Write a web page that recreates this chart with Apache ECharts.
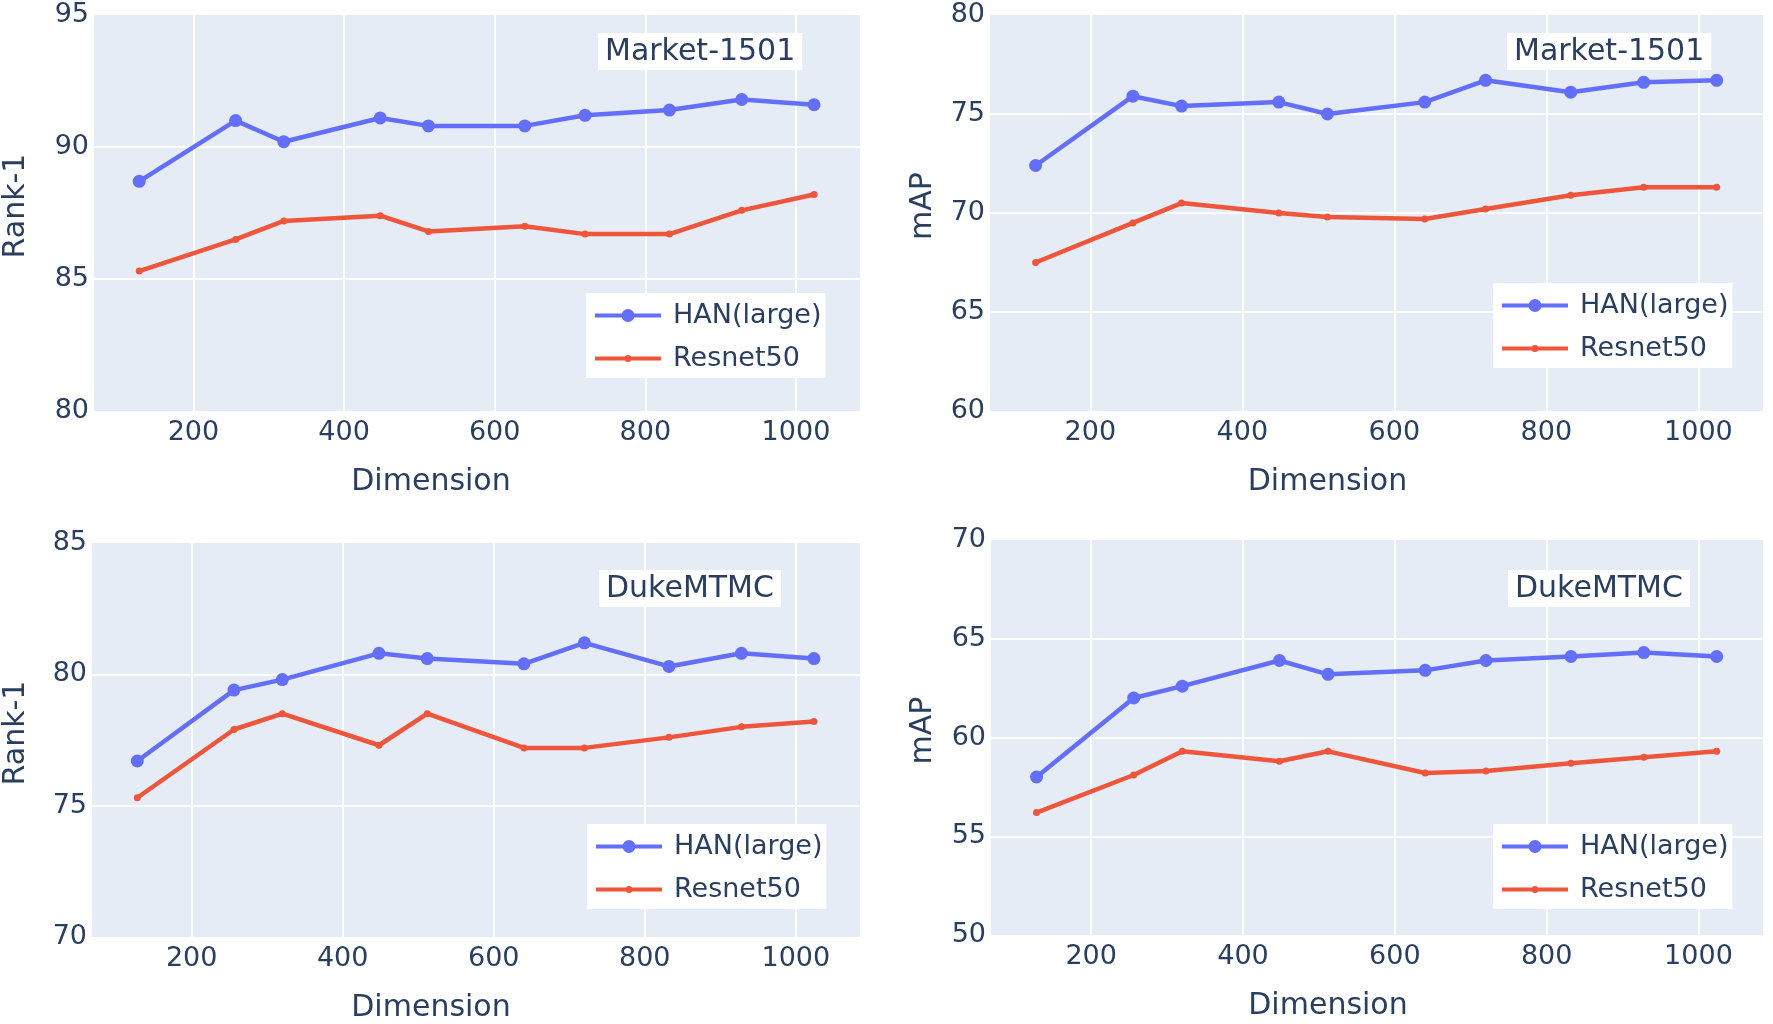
<!DOCTYPE html>
<html>
<head>
<meta charset="utf-8">
<script src="https://cdn.jsdelivr.net/npm/echarts@6/dist/echarts.min.js"></script>
<style>
  html, body { margin: 0; padding: 0; background: #fff; }
  #chart { width: 1773px; height: 1024px; }
</style>
</head>
<body>
<div id="chart"></div>
<script>
// ---- Data ----
const dims = [128, 256, 320, 448, 512, 640, 720, 832, 928, 1024];
const seriesNames = ['HAN(large)', 'Resnet50'];
const panelLabels = ['Market-1501', 'Market-1501', 'DukeMTMC', 'DukeMTMC'];
const yTitles = ['Rank-1', 'mAP', 'Rank-1', 'mAP'];
const xTitle = 'Dimension';

const marketRank1HAN = [88.7, 91.0, 90.2, 91.1, 90.8, 90.8, 91.2, 91.4, 91.8, 91.6];
const marketRank1Res = [85.3, 86.5, 87.2, 87.4, 86.8, 87.0, 86.7, 86.7, 87.6, 88.2];
const marketMapHAN   = [72.4, 75.9, 75.4, 75.6, 75.0, 75.6, 76.7, 76.1, 76.6, 76.7];
const marketMapRes   = [67.5, 69.5, 70.5, 70.0, 69.8, 69.7, 70.2, 70.9, 71.3, 71.3];
const dukeRank1HAN   = [76.7, 79.4, 79.8, 80.8, 80.6, 80.4, 81.2, 80.3, 80.8, 80.6];
const dukeRank1Res   = [75.3, 77.9, 78.5, 77.3, 78.5, 77.2, 77.2, 77.6, 78.0, 78.2];
const dukeMapHAN     = [58.0, 62.0, 62.6, 63.9, 63.2, 63.4, 63.9, 64.1, 64.3, 64.1];
const dukeMapRes     = [56.2, 58.1, 59.3, 58.8, 59.3, 58.2, 58.3, 58.7, 59.0, 59.3];

const yRanges = [[80, 95], [60, 80], [70, 85], [50, 70]];
const xRange = [68, 1085];

// ---- Styling / layout ----
const FONT = 'DejaVu Sans';
const TXT = '#2a3f5f';
const BLUE = '#636EFA';
const RED = '#EF553B';

const grids = [
  { left: 89,  top: 15,  width: 771, height: 396 },
  { left: 990, top: 15,  width: 773, height: 396 },
  { left: 87,  top: 543, width: 773, height: 395 },
  { left: 991, top: 540, width: 772, height: 395 }
];
const titlePos = [ [598, 33], [1507, 33], [599, 570], [1508, 570] ];
const legendPos = [ [586, 293], [1493, 283], [587, 824], [1493, 824] ];
const yNameGap = [63, 52, 61, 53];
const xNamePad = [92, 98, 90, 98];

const hanIcon = 'path://M0,4L66,4L66,8L0,8Z M26.5,6A6.5,6.5 0 1,1 39.5,6A6.5,6.5 0 1,1 26.5,6Z';
const resIcon = 'path://M0,-0.5L0.05,-0.5L0.05,-0.45Z M0,12.5L0.05,12.5L0.05,12.45Z M0,4L66,4L66,8L0,8Z M29.5,6A3.5,3.5 0 1,1 36.5,6A3.5,3.5 0 1,1 29.5,6Z';

const dataSets = [
  [marketRank1HAN, marketRank1Res],
  [marketMapHAN, marketMapRes],
  [dukeRank1HAN, dukeRank1Res],
  [dukeMapHAN, dukeMapRes]
];

const option = {
  backgroundColor: '#fff',
  animation: false,
  textStyle: { fontFamily: FONT, color: TXT },
  grid: grids.map(g => Object.assign({
    show: true, backgroundColor: '#E5ECF6', borderWidth: 0, containLabel: false
  }, g)),
  title: panelLabels.map((t, i) => ({
    text: t,
    left: titlePos[i][0], top: titlePos[i][1],
    backgroundColor: '#ffffff',
    padding: [4, 7, 3, 7],
    textStyle: { fontFamily: FONT, fontSize: 30, fontWeight: 'normal', color: TXT }
  })),
  legend: legendPos.map((p, i) => ({
    left: p[0], top: p[1],
    orient: 'vertical',
    backgroundColor: '#ffffff',
    padding: [9, 4, 6, 9],
    itemGap: 16,
    itemWidth: 66, itemHeight: 13,
    selectedMode: false,
    textStyle: { fontFamily: FONT, fontSize: 27, color: TXT, padding: [0, 0, 0, 7] },
    data: [
      { name: seriesNames[0], icon: hanIcon },
      { name: seriesNames[1], icon: resIcon }
    ]
  })),
  xAxis: grids.map((g, i) => ({
    type: 'value', gridIndex: i,
    min: xRange[0], max: xRange[1], splitNumber: 5,
    name: xTitle, nameLocation: 'middle', nameGap: 56,
    nameTextStyle: { fontFamily: FONT, fontSize: 30, color: TXT, padding: [0, xNamePad[i], 0, 0] },
    axisLine: { show: false }, axisTick: { show: false },
    axisLabel: {
      fontFamily: FONT, fontSize: 27, color: TXT, margin: 8,
      showMinLabel: false, showMaxLabel: false,
      formatter: v => (v % 200 === 0 ? String(v) : '')
    },
    splitLine: { show: true, showMinLine: false, showMaxLine: false, lineStyle: { color: '#ffffff', width: 2 } }
  })),
  yAxis: grids.map((g, i) => ({
    type: 'value', gridIndex: i,
    min: yRanges[i][0], max: yRanges[i][1], interval: 5,
    name: yTitles[i], nameLocation: 'middle', nameGap: yNameGap[i],
    nameTextStyle: { fontFamily: FONT, fontSize: 30, color: TXT, padding: [0, 0, 0, 14] },
    axisLine: { show: false }, axisTick: { show: false },
    axisLabel: { fontFamily: FONT, fontSize: 27, color: TXT, margin: 5 },
    splitLine: { show: true, showMinLine: false, showMaxLine: false, lineStyle: { color: '#ffffff', width: 2 } }
  })),
  series: []
};

dataSets.forEach((pair, i) => {
  option.series.push({
    name: seriesNames[0], type: 'line', xAxisIndex: i, yAxisIndex: i,
    data: dims.map((d, k) => [d, pair[0][k]]),
    symbol: 'circle', symbolSize: 13, showSymbol: true,
    lineStyle: { color: BLUE, width: 4.5 },
    itemStyle: { color: BLUE, borderWidth: 0 },
    emphasis: { disabled: true }
  });
  option.series.push({
    name: seriesNames[1], type: 'line', xAxisIndex: i, yAxisIndex: i,
    data: dims.map((d, k) => [d, pair[1][k]]),
    symbol: 'circle', symbolSize: 7, showSymbol: true,
    lineStyle: { color: RED, width: 4.5 },
    itemStyle: { color: RED, borderWidth: 0 },
    emphasis: { disabled: true }
  });
});

const chart = echarts.init(document.getElementById('chart'), null, { renderer: 'canvas' });
chart.setOption(option);
</script>
</body>
</html>
